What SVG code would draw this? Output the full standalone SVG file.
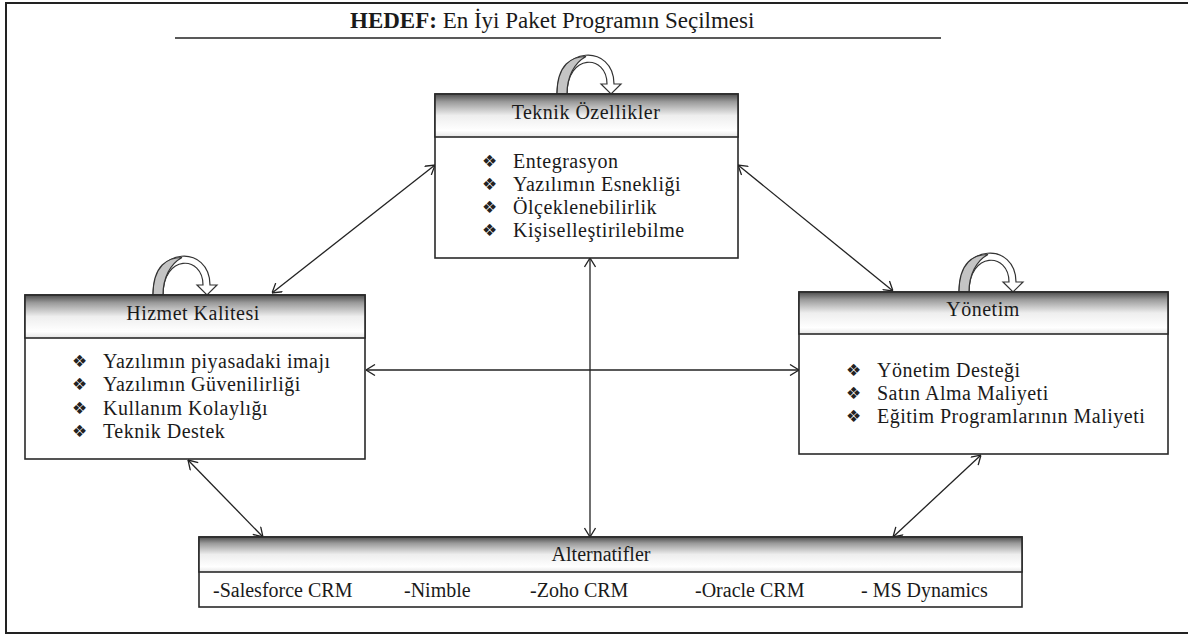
<svg xmlns="http://www.w3.org/2000/svg" width="1188" height="635" viewBox="0 0 1188 635">
<defs>
<linearGradient id="hdr" x1="0" y1="0" x2="0" y2="1">
<stop offset="0" stop-color="#4d4d4d"/>
<stop offset="0.18" stop-color="#9a9a9a"/>
<stop offset="0.5" stop-color="#eeeeee"/>
<stop offset="0.85" stop-color="#ffffff"/>
<stop offset="1" stop-color="#e6e6e6"/>
</linearGradient>
<marker id="ah" viewBox="0 0 10 12" refX="10" refY="6" markerWidth="10" markerHeight="12" markerUnits="userSpaceOnUse" orient="auto-start-reverse">
<path d="M1,0.5 L10,6 L1,11.5" fill="none" stroke="#222" stroke-width="1.3"/>
</marker>
<g id="loop">
<path d="M-29,0 C-29,-50 28,-50 28,-10 L35,-10 L25,0 L15,-10 L21,-10 C21,-40 -19,-41 -19,0 Z" fill="#fff" stroke="#333" stroke-width="1.2"/>
<path d="M-29,0 C-29,-30 -14,-37.5 0,-37.5 C-12,-31 -19,-17 -19,0 Z" fill="#c4c4c4" stroke="#333" stroke-width="1.2"/>
</g>
</defs>
<style>
.t{font-family:"Liberation Serif","Times New Roman",serif;font-size:20px;fill:#1a1a1a}
.s{letter-spacing:0.5px}
.c{text-anchor:middle}
.b{font-family:"DejaVu Sans",sans-serif;font-size:17px;fill:#222}
.box{fill:#fff;stroke:#2a2a2a;stroke-width:1.6}
.hd{fill:url(#hdr);stroke:#2a2a2a;stroke-width:1.6}
.ln{stroke:#222;stroke-width:1.3;fill:none;marker-start:url(#ah);marker-end:url(#ah)}
</style>
<rect width="1188" height="635" fill="#fff"/>
<path d="M1192,3 H6 V633 H1192" fill="none" stroke="#222" stroke-width="2"/>
<g id="title">
<text class="t" x="350" y="28" style="font-size:23px"><tspan font-weight="bold">HEDEF:</tspan> En İyi Paket Programın Seçilmesi</text>
<line x1="175" y1="38" x2="941" y2="38" stroke="#222" stroke-width="1.5"/>
</g>
<g id="connectors">
<line class="ln" x1="435" y1="165" x2="272" y2="293"/>
<line class="ln" x1="738" y1="165" x2="893" y2="291"/>
<line class="ln" x1="366" y1="370" x2="799" y2="370"/>
<line class="ln" x1="590" y1="258" x2="590" y2="537"/>
<line class="ln" x1="188" y1="460" x2="263" y2="537"/>
<line class="ln" x1="981" y1="455" x2="893" y2="537"/>
</g>
<g id="teknik">
<use href="#loop" x="586" y="94"/>
<rect class="box" x="435" y="94" width="303" height="164"/>
<rect class="hd" x="435" y="94" width="303" height="43"/>
<text class="t c s" x="586" y="119">Teknik Özellikler</text>
<text class="b" x="482" y="167">❖</text><text class="t s" x="513" y="168">Entegrasyon</text>
<text class="b" x="482" y="190">❖</text><text class="t s" x="513" y="191">Yazılımın Esnekliği</text>
<text class="b" x="482" y="213">❖</text><text class="t s" x="513" y="214">Ölçeklenebilirlik</text>
<text class="b" x="482" y="236">❖</text><text class="t s" x="513" y="237">Kişiselleştirilebilme</text>
</g>
<g id="hizmet">
<use href="#loop" x="182" y="295"/>
<rect class="box" x="25" y="295" width="340" height="164"/>
<rect class="hd" x="25" y="295" width="340" height="43"/>
<text class="t c s" x="193" y="320">Hizmet Kalitesi</text>
<text class="b" x="72" y="367">❖</text><text class="t s" x="103" y="368">Yazılımın piyasadaki imajı</text>
<text class="b" x="72" y="390">❖</text><text class="t s" x="103" y="391">Yazılımın Güvenilirliği</text>
<text class="b" x="72" y="414">❖</text><text class="t s" x="103" y="415">Kullanım Kolaylığı</text>
<text class="b" x="72" y="437">❖</text><text class="t s" x="103" y="438">Teknik Destek</text>
</g>
<g id="yonetim">
<use href="#loop" x="988" y="292"/>
<rect class="box" x="799" y="292" width="369" height="162"/>
<rect class="hd" x="799" y="292" width="369" height="42"/>
<text class="t c s" x="983" y="316">Yönetim</text>
<text class="b" x="846" y="376">❖</text><text class="t s" x="877" y="377">Yönetim Desteği</text>
<text class="b" x="846" y="399">❖</text><text class="t s" x="877" y="400">Satın Alma Maliyeti</text>
<text class="b" x="846" y="422">❖</text><text class="t s" x="877" y="423">Eğitim Programlarının Maliyeti</text>
</g>
<g id="alternatifler">
<rect class="box" x="199" y="537" width="823" height="70"/>
<rect class="hd" x="199" y="537" width="823" height="35"/>
<text class="t c" x="601" y="561">Alternatifler</text>
<text class="t" x="213" y="597">-Salesforce CRM</text>
<text class="t" x="404" y="597">-Nimble</text>
<text class="t" x="530" y="597">-Zoho CRM</text>
<text class="t" x="695" y="597">-Oracle CRM</text>
<text class="t" x="861" y="597">- MS Dynamics</text>
</g>
</svg>
